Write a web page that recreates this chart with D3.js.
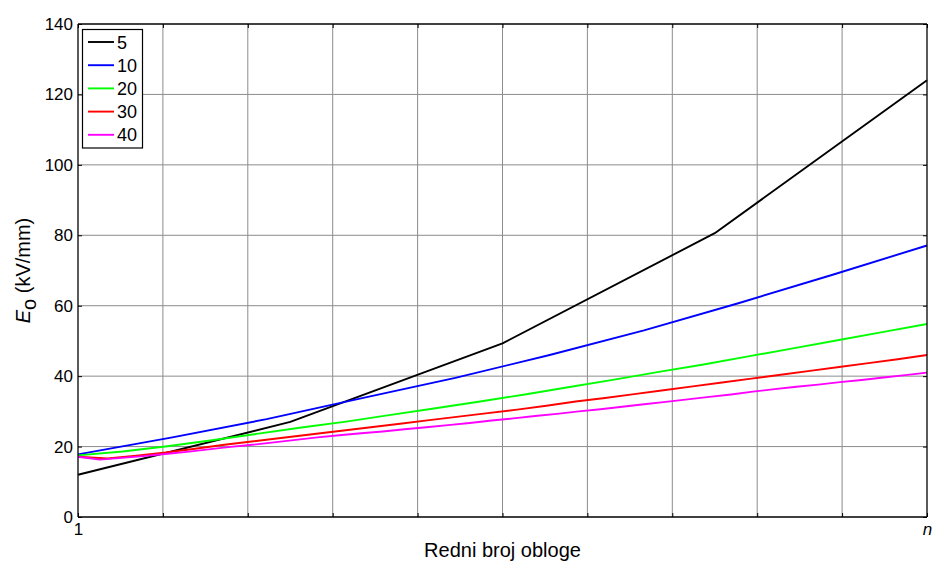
<!DOCTYPE html>
<html>
<head>
<meta charset="utf-8">
<script src="https://cdn.jsdelivr.net/npm/d3@7"></script>
<style>
  html, body { margin: 0; padding: 0; background: #fff; }
  svg { display: block; font-family: "Liberation Sans", Arial, sans-serif; }
</style>
</head>
<body>
<svg id="chart" width="932" height="561"></svg>
<script>
// Series labels (number of layers) and colours
const seriesNames = ["5", "10", "20", "30", "40"];
const seriesColors = ["#000000", "#0000ff", "#00ff00", "#ff0000", "#ff00ff"];

// Field strength E_o (kV/mm) per layer, layer 1 .. n
const values5 = [12, 27, 49.3, 80.6, 124];
const values10 = [17.8, 22.6, 27.8, 33.7, 39.5, 46.0, 53.0, 60.7, 68.8, 77.1];
const values20 = [17.5, 18.6, 20.1, 21.8, 23.6, 25.4, 27.1, 29.0, 30.9, 32.8,
                  34.8, 36.9, 39.0, 41.2, 43.3, 45.6, 47.9, 50.2, 52.5, 54.8];
const values30 = [17.1, 16.6, 17.4, 18.3, 19.4, 20.5, 21.5, 22.5, 23.5, 24.5,
                  25.5, 26.5, 27.5, 28.5, 29.5, 30.5, 31.6, 32.8, 33.8, 34.9,
                  36.0, 37.1, 38.2, 39.3, 40.4, 41.5, 42.6, 43.7, 44.8, 46.0];
const values40 = [17.1, 16.3, 16.8, 17.3, 17.9, 18.5, 19.2, 19.9, 20.5, 21.2,
                  21.9, 22.6, 23.2, 23.8, 24.3, 24.9, 25.5, 26.1, 26.7, 27.4,
                  28.0, 28.7, 29.3, 30.0, 30.6, 31.3, 32.0, 32.7, 33.4, 34.1,
                  34.8, 35.6, 36.3, 37.0, 37.6, 38.3, 38.9, 39.6, 40.3, 41.0];
const seriesValues = [values5, values10, values20, values30, values40];

// Axis ticks
const yTicks = [0, 20, 40, 60, 80, 100, 120, 140];
const xTickPositions = [0, 1, 2, 3, 4, 5, 6, 7, 8, 9, 10];
const xTickLabels = ["1", "", "", "", "", "", "", "", "", "", "n"];

const xTitle = "Redni broj obloge";

const svg = d3.select("#chart");
const margin = { left: 78, right: 5, top: 24, bottom: 44 };
const W = 932, H = 561;
const x0 = margin.left, x1 = W - margin.right;
const y0 = H - margin.bottom, y1 = margin.top;

const xGrid = d3.scaleLinear().domain([0, 10]).range([x0, x1]);
const y = d3.scaleLinear().domain([0, 140]).range([y0, y1]);

const g = svg.append("g");

// Grid lines
g.append("g").selectAll("line.vg")
  .data(xTickPositions.slice(1, -1)).join("line")
  .attr("x1", d => xGrid(d)).attr("x2", d => xGrid(d))
  .attr("y1", y0).attr("y2", y1)
  .attr("stroke", "#8c8c8c").attr("stroke-width", 1);
g.append("g").selectAll("line.hg")
  .data(yTicks.slice(1, -1)).join("line")
  .attr("x1", x0).attr("x2", x1)
  .attr("y1", d => y(d)).attr("y2", d => y(d))
  .attr("stroke", "#8c8c8c").attr("stroke-width", 1);

// Series lines
const lineGen = (vals) => {
  const xs = d3.scaleLinear().domain([1, vals.length]).range([x0, x1]);
  return d3.line().x((d, i) => xs(i + 1)).y(d => y(d))(vals);
};
seriesValues.forEach((vals, i) => {
  g.append("path")
    .attr("d", lineGen(vals))
    .attr("fill", "none")
    .attr("stroke", seriesColors[i])
    .attr("stroke-width", 1.9)
    .attr("stroke-linejoin", "round");
});

// Axes (MATLAB-style inward ticks on all sides)
const tickLen = 4;
const axisBottom = d3.axisBottom(xGrid).tickValues(xTickPositions)
  .tickSize(-tickLen).tickPadding(6).tickFormat((d, i) => xTickLabels[i]);
const axisTop = d3.axisTop(xGrid).tickValues(xTickPositions)
  .tickSize(-tickLen).tickFormat("");
const axisLeft = d3.axisLeft(y).tickValues(yTicks)
  .tickSize(-tickLen).tickPadding(5).tickFormat(d3.format("d"));
const axisRight = d3.axisRight(y).tickValues(yTicks)
  .tickSize(-tickLen).tickFormat("");

const styleAxis = (sel) => {
  sel.select(".domain").attr("stroke", "#000").attr("stroke-width", 1.3);
  sel.selectAll(".tick line").attr("stroke", "#000").attr("stroke-width", 1);
  sel.selectAll(".tick text").attr("fill", "#000")
    .style("font-size", "17px").style("font-family", "Liberation Sans, Arial, sans-serif");
};

const gB = svg.append("g").attr("transform", `translate(0,${y0})`).call(axisBottom).call(styleAxis);
gB.select(".domain").attr("d", `M${x0},0H${x1}`);
gB.selectAll(".tick text").style("font-style", (d, i) => xTickLabels[i] === "n" ? "italic" : "normal");
const gT = svg.append("g").attr("transform", `translate(0,${y1})`).call(axisTop).call(styleAxis);
gT.select(".domain").attr("d", `M${x0},0H${x1}`);
const gL = svg.append("g").attr("transform", `translate(${x0},0)`).call(axisLeft).call(styleAxis);
gL.select(".domain").attr("d", `M0,${y0}V${y1}`);
const gR = svg.append("g").attr("transform", `translate(${x1},0)`).call(axisRight).call(styleAxis);
gR.select(".domain").attr("d", `M0,${y0}V${y1}`);

// Axis titles
svg.append("text")
  .attr("x", (x0 + x1) / 2).attr("y", 557)
  .attr("text-anchor", "middle")
  .style("font-size", "20px")
  .text(xTitle);

const yt = svg.append("text")
  .attr("transform", `translate(30,${(y0 + y1) / 2}) rotate(-90)`)
  .attr("text-anchor", "middle")
  .style("font-size", "20px");
yt.append("tspan").style("font-style", "italic").text("E");
yt.append("tspan").attr("dy", 6).text("o");
yt.append("tspan").attr("dy", -6).text(" (kV/mm)");

// Legend
const lg = svg.append("g");
const lgX = 82.5, lgY = 29.5, lgW = 60, lgH = 118.5;
lg.append("rect").attr("x", lgX).attr("y", lgY).attr("width", lgW).attr("height", lgH)
  .attr("fill", "#fff").attr("stroke", "#000").attr("stroke-width", 1.2);
seriesNames.forEach((name, i) => {
  const cy = 42 + i * 23.2;
  lg.append("line").attr("x1", 88).attr("x2", 114).attr("y1", cy).attr("y2", cy)
    .attr("stroke", seriesColors[i]).attr("stroke-width", 1.9);
  lg.append("text").attr("x", 117).attr("y", cy + 6.5)
    .style("font-size", "18px").text(name);
});
</script>
</body>
</html>
